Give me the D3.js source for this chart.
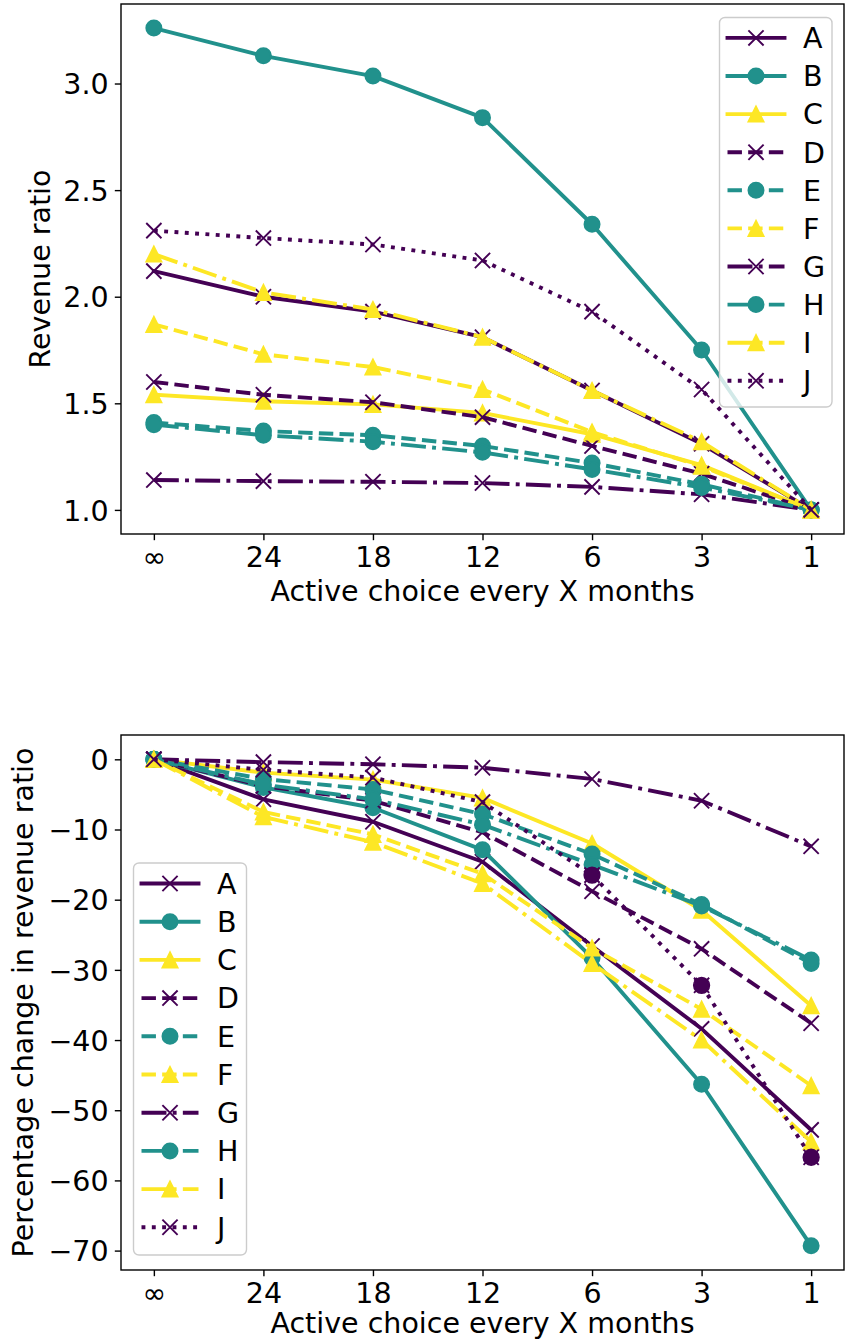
<!DOCTYPE html>
<html>
<head>
<meta charset="utf-8">
<script src="https://cdn.jsdelivr.net/npm/d3@7"></script>
<style>
  body { margin: 0; background: #fff; }
  svg { display: block; }
  text { font-family: "DejaVu Sans", "Liberation Sans", sans-serif; fill: #000; }
</style>
</head>
<body>
<svg id="fig" width="846" height="1342"></svg>
<script>
// ---- data -------------------------------------------------------------
const periods = ["∞", "24", "18", "12", "6", "3", "1"];
const seriesNames = ["A", "B", "C", "D", "E", "F", "G", "H", "I", "J"];

// Revenue ratio by active-choice interval
const ratioA = [2.12, 2.00, 1.93, 1.81, 1.56, 1.31, 1.00];
const ratioB = [3.26, 3.13, 3.035, 2.84, 2.34, 1.75, 1.00];
const ratioC = [1.54, 1.51, 1.495, 1.455, 1.355, 1.21, 1.00];
const ratioD = [1.60, 1.54, 1.505, 1.435, 1.30, 1.17, 1.00];
const ratioE = [1.41, 1.37, 1.35, 1.30, 1.22, 1.12, 1.00];
const ratioF = [1.87, 1.73, 1.67, 1.565, 1.365, 1.205, 1.00];
const ratioG = [1.14, 1.135, 1.132, 1.126, 1.108, 1.073, 1.00];
const ratioH = [1.40, 1.35, 1.32, 1.27, 1.19, 1.105, 1.00];
const ratioI = [2.20, 2.02, 1.94, 1.81, 1.56, 1.32, 1.00];
const ratioJ = [2.31, 2.275, 2.245, 2.17, 1.93, 1.565, 1.00];

// Percentage change in revenue ratio relative to "never"
const pctA = [0, -5.7, -8.9, -14.6, -26.6, -38.4, -52.8];
const pctB = [0, -4.0, -6.9, -12.9, -28.3, -46.3, -69.3];
const pctC = [0, -1.9, -2.9, -5.5, -12.0, -21.5, -35.1];
const pctD = [0, -3.8, -5.9, -10.4, -18.8, -27.0, -37.6];
const pctE = [0, -2.8, -4.3, -7.8, -13.5, -20.7, -29.1];
const pctF = [0, -7.5, -10.7, -16.3, -26.9, -35.6, -46.5];
const pctG = [0, -0.4, -0.7, -1.2, -2.8, -5.9, -12.4];
const pctH = [0, -3.6, -5.7, -9.3, -15.0, -20.9, -28.6];
const pctI = [0, -8.2, -11.8, -17.7, -29.1, -40.0, -54.5];
const pctJ = [0, -1.5, -2.6, -6.1, -16.5, -32.2, -56.7];

// Highlighted points on series J (interval indices)
const highlightJ = [4, 5, 6];

const ratioTicks = [1.0, 1.5, 2.0, 2.5, 3.0];
const pctTicks = [0, -10, -20, -30, -40, -50, -60, -70];

const ratioSeries = [ratioA, ratioB, ratioC, ratioD, ratioE, ratioF, ratioG, ratioH, ratioI, ratioJ];
const pctSeries = [pctA, pctB, pctC, pctD, pctE, pctF, pctG, pctH, pctI, pctJ];

// ---- styles -----------------------------------------------------------
const FS = 28.5;          // font size
const LW = 3.9;           // line width
const MS = 15.2;          // marker size
const colors = ["#440154", "#21918c", "#fde725"];
const markers = ["x", "o", "^"];
const dashes = [
  null,
  [3.7 * LW, 1.6 * LW],
  [6.4 * LW, 1.6 * LW, 1 * LW, 1.6 * LW],
  [1 * LW, 1.65 * LW]
];
function styleOf(i) {
  return {
    color: colors[i % 3],
    marker: markers[i % 3],
    dash: dashes[Math.min(Math.floor(i / 3), 3)]
  };
}

const svg = d3.select("#fig");

function drawMarker(g, type, cx, cy, color) {
  const h = MS / 2;
  if (type === "x") {
    g.append("path")
      .attr("d", `M${cx - h},${cy - h}L${cx + h},${cy + h}M${cx - h},${cy + h}L${cx + h},${cy - h}`)
      .attr("stroke", color).attr("stroke-width", 1.9).attr("fill", "none");
  } else if (type === "o") {
    g.append("circle").attr("cx", cx).attr("cy", cy).attr("r", h)
      .attr("fill", color).attr("stroke", color).attr("stroke-width", 1.8);
  } else {
    g.append("path")
      .attr("d", `M${cx},${cy - h}L${cx - h},${cy + h}L${cx + h},${cy + h}Z`)
      .attr("fill", color).attr("stroke", color).attr("stroke-width", 1.8)
      .attr("stroke-linejoin", "miter");
  }
}

function styleLine(sel, st) {
  sel.attr("fill", "none")
    .attr("stroke", st.color)
    .attr("stroke-width", LW)
    .attr("stroke-linejoin", "round")
    .attr("stroke-linecap", st.dash ? "butt" : "square");
  if (st.dash) sel.attr("stroke-dasharray", st.dash.join(","));
}

function panel(cfg) {
  const { left, right, top, bottom, series, ticks, tickFmt, ylabel, ylabelX, xlabelOffset, legend, highlight } = cfg;
  const all = series.flat();
  const [mn, mx] = d3.extent(all);
  const pad = (mx - mn) * 0.05;
  const x = d3.scaleLinear().domain([-0.3, periods.length - 1 + 0.3]).range([left, right]);
  const y = d3.scaleLinear().domain([mn - pad, mx + pad]).range([bottom, top]);

  const g = svg.append("g");

  // data lines
  const line = d3.line().x((d, i) => x(i)).y(d => y(d));
  series.forEach((vals, i) => {
    const st = styleOf(i);
    const sg = g.append("g");
    styleLine(sg.append("path").attr("d", line(vals)), st);
    vals.forEach((v, j) => drawMarker(sg, st.marker, x(j), y(v), st.color));
  });

  if (highlight) {
    highlight.idx.forEach(j => {
      g.append("circle").attr("cx", x(j)).attr("cy", y(highlight.vals[j])).attr("r", MS / 2 + 0.3)
        .attr("fill", "#440154").attr("stroke", "#440154").attr("stroke-width", 1.5);
    });
  }

  // axes
  const xAxis = d3.axisBottom(x).tickValues(d3.range(periods.length))
    .tickFormat(i => periods[i]).tickSize(6.2).tickPadding(6.2).tickSizeOuter(0);
  const yAxis = d3.axisLeft(y).tickValues(ticks).tickFormat(tickFmt)
    .tickSize(6.2).tickPadding(6.2).tickSizeOuter(0);

  const gx = svg.append("g").attr("transform", `translate(0,${bottom})`).call(xAxis);
  const gy = svg.append("g").attr("transform", `translate(${left},0)`).call(yAxis);
  [gx, gy].forEach(a => {
    a.select(".domain").remove();
    a.selectAll(".tick line").attr("stroke", "#000").attr("stroke-width", 1.4);
    a.selectAll(".tick text").attr("font-size", FS)
      .attr("font-family", '"DejaVu Sans", sans-serif').attr("fill", "#000");
  });
  gy.selectAll(".tick text").attr("dy", "0.36em");

  // frame
  svg.append("rect").attr("x", left).attr("y", top)
    .attr("width", right - left).attr("height", bottom - top)
    .attr("fill", "none").attr("stroke", "#000").attr("stroke-width", 1.4);

  // axis labels
  svg.append("text").attr("x", (left + right) / 2).attr("y", bottom + xlabelOffset)
    .attr("text-anchor", "middle").attr("font-size", FS)
    .text("Active choice every X months");
  svg.append("text")
    .attr("transform", `translate(${ylabelX},${(top + bottom) / 2}) rotate(-90)`)
    .attr("text-anchor", "middle").attr("font-size", FS)
    .text(ylabel);

  // legend
  const lg = svg.append("g");
  lg.append("rect").attr("x", legend.x).attr("y", legend.y)
    .attr("width", legend.w).attr("height", legend.h)
    .attr("rx", 5.5).attr("ry", 5.5)
    .attr("fill", "#fff").attr("fill-opacity", 0.8)
    .attr("stroke", "#cccccc").attr("stroke-width", 1.4);
  seriesNames.forEach((name, i) => {
    const st = styleOf(i);
    const cy = legend.row0 + i * legend.step;
    const x0 = legend.x + 8, x1 = x0 + 2 * FS;
    styleLine(lg.append("path").attr("d", `M${x0},${cy}L${x1},${cy}`), st);
    drawMarker(lg, st.marker, (x0 + x1) / 2, cy, st.color);
    lg.append("text").attr("x", x1 + 18.5).attr("y", cy + 0.364 * FS)
      .attr("font-size", FS).text(name);
  });
}

const fmtRatio = d3.format(".1f");
const fmtPct = d => (d < 0 ? "\u2212" + Math.abs(d) : String(d));

panel({
  left: 121, right: 844, top: 4, bottom: 534,
  series: ratioSeries, ticks: ratioTicks, tickFmt: fmtRatio,
  ylabel: "Revenue ratio", ylabelX: 50, xlabelOffset: 67,
  legend: { x: 719.5, y: 17.5, w: 112.5, h: 389.5, row0: 37.9, step: 38.1 }
});

panel({
  left: 121, right: 844, top: 735, bottom: 1270,
  series: pctSeries, ticks: pctTicks, tickFmt: fmtPct,
  ylabel: "Percentage change in revenue ratio", ylabelX: 33, xlabelOffset: 63,
  legend: { x: 133.5, y: 863, w: 113, h: 392, row0: 883.5, step: 38.2 },
  highlight: { idx: highlightJ, vals: pctJ }
});
</script>
</body>
</html>
